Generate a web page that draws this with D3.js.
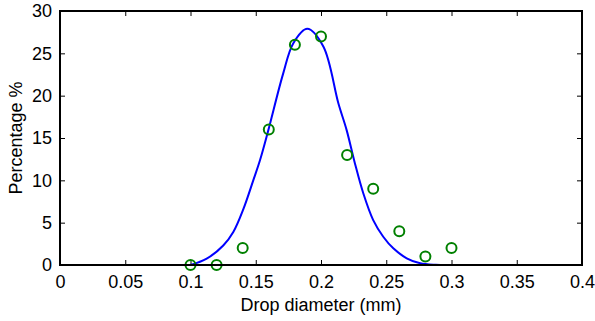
<!DOCTYPE html>
<html>
<head>
<meta charset="utf-8">
<script src="https://cdn.jsdelivr.net/npm/d3@7"></script>
<style>
  body { margin: 0; background: #fff; }
  .axis text { font-family: "Liberation Sans", Arial, sans-serif; font-size: 18px; fill: #000; }
  .axis path, .axis line { stroke: #000; }
</style>
</head>
<body>
<div id="chart"></div>
<script>
// measured droplet size distribution
const diameters = [0.10, 0.12, 0.14, 0.16, 0.18, 0.20, 0.22, 0.24, 0.26, 0.28, 0.30];
const percentages = [0, 0, 2, 16, 26, 27, 13, 9, 4, 1, 2];

// fitted curve
const fitX = [0.100, 0.1124, 0.1251, 0.1328, 0.1405, 0.1481, 0.1533, 0.1596, 0.171, 0.1788, 0.1895,
              0.2018, 0.2133, 0.2197, 0.226, 0.2324, 0.240, 0.2477, 0.2554, 0.2657, 0.276, 0.288, 0.300];
const fitY = [0, 0.75, 2.3, 3.9, 6.6, 10.0, 12.4, 15.9, 22.6, 26.2, 27.9,
              25.8, 19.1, 15.9, 12.0, 8.47, 5.3, 3.34, 1.97, 0.79, 0.2, 0.02, 0];

const xTicks = [0, 0.05, 0.1, 0.15, 0.2, 0.25, 0.3, 0.35, 0.4];
const yTicks = [0, 5, 10, 15, 20, 25, 30];

const W = 595, H = 321;
const margin = { top: 11, right: 13, bottom: 56, left: 60 };
const width = W - margin.left - margin.right;
const height = H - margin.top - margin.bottom;

const svg = d3.select("#chart").append("svg")
    .attr("width", W)
    .attr("height", H);
const g = svg.append("g")
    .attr("transform", "translate(" + margin.left + "," + margin.top + ")");

const x = d3.scaleLinear().domain([0, 0.4]).range([0, width]);
const y = d3.scaleLinear().domain([0, 30]).range([height, 0]);

// bottom / left axes with inward ticks
g.append("g")
    .attr("class", "axis")
    .attr("transform", "translate(0," + height + ")")
    .call(d3.axisBottom(x).tickValues(xTicks).tickSize(-5).tickPadding(10).tickFormat(d3.format("~g")))
    .call(a => a.select(".domain").remove());

g.append("g")
    .attr("class", "axis")
    .call(d3.axisLeft(y).tickValues(yTicks).tickSize(-5).tickPadding(8))
    .call(a => a.select(".domain").remove());

// mirrored ticks on top and right
g.append("g")
    .attr("class", "axis")
    .call(d3.axisTop(x).tickValues(xTicks).tickSize(-5).tickFormat(""))
    .call(a => a.select(".domain").remove());

g.append("g")
    .attr("class", "axis")
    .attr("transform", "translate(" + width + ",0)")
    .call(d3.axisRight(y).tickValues(yTicks).tickSize(-5).tickFormat(""))
    .call(a => a.select(".domain").remove());

// fitted curve
const line = d3.line()
    .x((d, i) => x(fitX[i]))
    .y(d => y(d))
    .curve(d3.curveCatmullRom.alpha(0.5));

g.append("path")
    .datum(fitY)
    .attr("fill", "none")
    .attr("stroke", "#0000ff")
    .attr("stroke-width", 2)
    .attr("d", line);

// measured points
g.selectAll("circle.pt")
    .data(percentages)
    .enter().append("circle")
    .attr("class", "pt")
    .attr("cx", (d, i) => x(diameters[i]))
    .attr("cy", d => y(d))
    .attr("r", 5)
    .attr("fill", "none")
    .attr("stroke", "#008000")
    .attr("stroke-width", 2);

// box
g.append("rect")
    .attr("width", width)
    .attr("height", height)
    .attr("fill", "none")
    .attr("stroke", "#000")
    .attr("stroke-width", 2);

// axis titles
svg.append("text")
    .attr("x", margin.left + width / 2)
    .attr("y", 311)
    .attr("text-anchor", "middle")
    .attr("font-family", "Liberation Sans, Arial, sans-serif")
    .attr("font-size", 18)
    .text("Drop diameter (mm)");

svg.append("text")
    .attr("transform", "translate(22," + (margin.top + height / 2) + ") rotate(-90)")
    .attr("text-anchor", "middle")
    .attr("font-family", "Liberation Sans, Arial, sans-serif")
    .attr("font-size", 18)
    .text("Percentage %");
</script>
</body>
</html>
